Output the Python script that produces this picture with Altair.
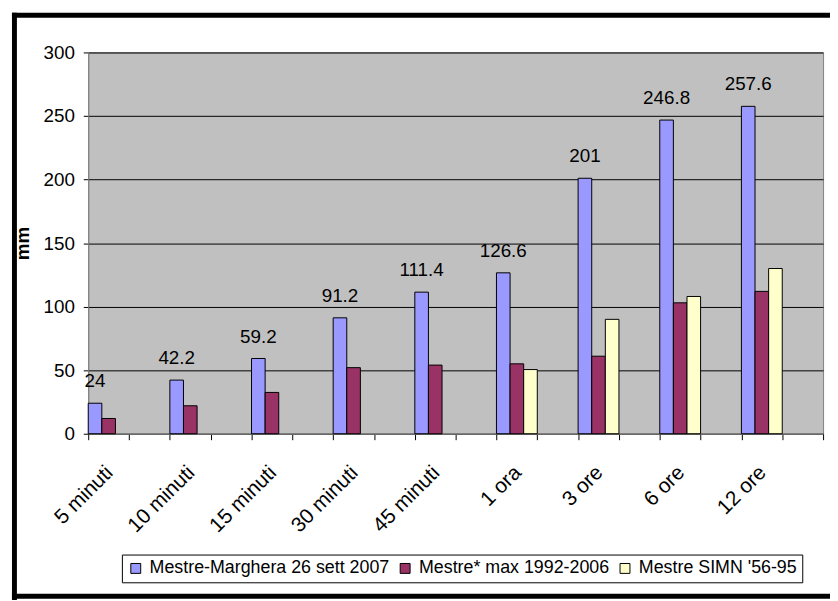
import altair as alt
import pandas as pd

categories = ["5 minuti", "10 minuti", "15 minuti", "30 minuti", "45 minuti",
              "1 ora", "3 ore", "6 ore", "12 ore"]
series_names = ["Mestre-Marghera 26 sett 2007", "Mestre* max 1992-2006", "Mestre SIMN '56-95"]
event_2007 = [24, 42.2, 59.2, 91.2, 111.4, 126.6, 201, 246.8, 257.6]
max_1992_2006 = [12, 22, 32.5, 52, 54, 55, 61, 103, 112]
simn_56_95 = [None, None, None, None, None, 50.5, 90, 108, 130]
colors = ["#9999FF", "#993366", "#FFFFCC"]
y_ticks = [0, 50, 100, 150, 200, 250, 300]

rows = []
for s, vals in zip(series_names, [event_2007, max_1992_2006, simn_56_95]):
    for c, v in zip(categories, vals):
        if v is not None:
            rows.append({"durata": c, "serie": s, "mm": v})
df = pd.DataFrame(rows)
df_event = df[df["serie"] == series_names[0]]

# each category followed by an empty slot (as in the original spreadsheet chart)
slots = []
for i, c in enumerate(categories):
    slots += [c, f"~{i}"]

FONT = "Liberation Sans"

x_enc = alt.X("durata:N",
              scale=alt.Scale(domain=slots, paddingInner=0, paddingOuter=0),
              axis=alt.Axis(title=None, tickBand="extent", labelAngle=-45,
                            labelExpr="slice(datum.label, 0, 1) == '~' ? '' : datum.label",
                            labelOverlap=False, labelFontSize=21, labelPadding=22,
                            labelOffset=-7,
                            tickSize=6, tickColor="black", domainColor="#808080",
                            grid=False))
xo_enc = alt.XOffset("serie:N",
                     scale=alt.Scale(domain=series_names, paddingInner=0, paddingOuter=0))
y_enc = alt.Y("mm:Q",
              scale=alt.Scale(domain=[0, 300], nice=False),
              axis=alt.Axis(values=y_ticks, title="mm", grid=True, gridColor="black",
                            gridWidth=1, tickColor="black", tickSize=5,
                            labelFontSize=19, labelPadding=9, titleFontSize=19,
                            titleFontWeight="bold", titlePadding=11,
                            domainColor="#808080"))

bars = alt.Chart(df).mark_bar(stroke="black", strokeWidth=1).encode(
    x=x_enc,
    xOffset=xo_enc,
    y=y_enc,
    color=alt.Color("serie:N",
                    scale=alt.Scale(domain=series_names, range=colors),
                    legend=alt.Legend(title=None, orient="none", legendX=34, legendY=507,
                                      direction="horizontal", symbolType="square",
                                      symbolSize=100, symbolStrokeColor="black",
                                      symbolStrokeWidth=1, labelFontSize=18,
                                      labelLimit=500, strokeColor="black",
                                      fillColor="white", padding=5, columnPadding=6,
                                      labelOffset=5)),
)

labels = alt.Chart(df_event).mark_text(baseline="alphabetic", dy=-16, fontSize=19,
                                        font=FONT, color="black").encode(
    x=x_enc, xOffset=xo_enc, y=y_enc, text=alt.Text("mm:Q"))

one = pd.DataFrame({"k": [0]})
frame_left = alt.Chart(one).mark_rule(color="black", strokeWidth=5).encode(
    x=alt.value(-74.5), y=alt.value(-40), y2=alt.value(560))
frame_top = alt.Chart(one).mark_rule(color="black", strokeWidth=5).encode(
    x=alt.value(-77), x2=alt.value(760), y=alt.value(-37.5))
frame_bottom = alt.Chart(one).mark_rule(color="black", strokeWidth=5).encode(
    x=alt.value(-77), x2=alt.value(760), y=alt.value(549))

chart = alt.layer(bars, labels, frame_left, frame_top, frame_bottom).properties(
    width=742, height=385,
    autosize=alt.AutoSizeParams(type="none"),
    padding={"left": 81, "top": 42, "right": 7, "bottom": 165},
    background="white",
).configure(font=FONT).configure_axis(
    labelColor="black", titleColor="black", labelFont=FONT, titleFont=FONT
).configure_legend(labelColor="black", labelFont=FONT).configure_view(
    fill="#C0C0C0", stroke="#808080", strokeWidth=1
)

chart.save("out.html", embed_options={"renderer": "svg", "actions": False})
